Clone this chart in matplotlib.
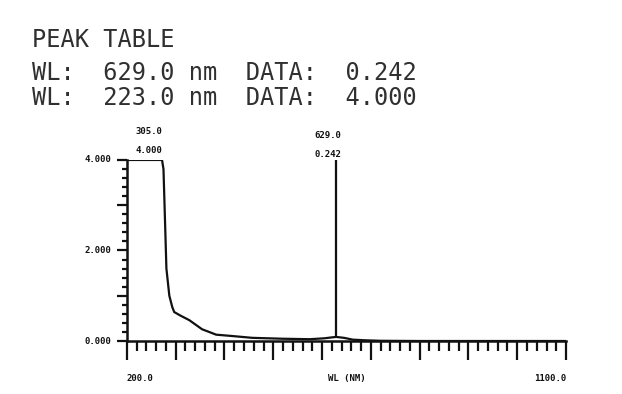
import numpy as np
import matplotlib
matplotlib.use('Agg')
import matplotlib.pyplot as plt
from matplotlib.ticker import MultipleLocator

# spectrum (wavelength nm, absorbance)
wavelength = [200, 272, 275, 281, 287, 293, 297, 310, 328, 354, 383, 416, 457,
              520, 575, 605, 620, 629, 645, 663, 690, 720, 800, 900, 1000, 1100]
absorbance = [4.0, 4.0, 3.8, 1.6, 1.0, 0.75, 0.64, 0.56, 0.46, 0.26, 0.14, 0.11, 0.07,
              0.05, 0.04, 0.06, 0.08, 0.09, 0.07, 0.03, 0.015, 0.005, 0.0, 0.0, 0.0, 0.0]

peak_label = ['305.0', '629.0']
peak_value = ['4.000', '0.242']
label_x = [245, 612]
label_y = [4.62, 4.55]

table_title = 'PEAK TABLE'
table_rows = ['WL:  629.0 nm  DATA:  0.242',
              'WL:  223.0 nm  DATA:  4.000']

ytick_vals = [0, 2, 4]
ytick_text = ['0.000', '2.000', '4.000']

ink = '#111111'
mono = 'DejaVu Sans Mono'

fig = plt.figure(figsize=(6.22, 3.94), dpi=100)
fig.patch.set_facecolor('white')
ax = fig.add_axes([0.204, 0.1345, 0.706, 0.4595])

ax.plot(wavelength, absorbance, color=ink, lw=1.6, solid_joinstyle='miter')
# peak marker line at 629 nm
ax.vlines(629, 0.09, 4.05, color=ink, lw=1.6)

ax.set_xlim(200, 1100)
ax.set_ylim(0, 4)
for s in ['top', 'right']:
    ax.spines[s].set_visible(False)
for s in ['left', 'bottom']:
    ax.spines[s].set_linewidth(1.8)
    ax.spines[s].set_color(ink)

ax.xaxis.set_major_locator(MultipleLocator(100))
ax.xaxis.set_minor_locator(MultipleLocator(20))
ax.yaxis.set_major_locator(MultipleLocator(1))
ax.yaxis.set_minor_locator(MultipleLocator(0.2))
ax.tick_params(axis='both', which='both', direction='out', width=1.6, color=ink,
               labelbottom=False, labelleft=False)
ax.tick_params(axis='x', which='major', length=14)
ax.tick_params(axis='x', which='minor', length=7)
ax.tick_params(axis='y', which='major', length=7)
ax.tick_params(axis='y', which='minor', length=3.5)

# axis annotations in the printer's small bold type
lab = dict(fontsize=6.5, fontweight='bold', family=mono, color=ink)
for v, t in zip(ytick_vals, ytick_text):
    ax.text(-0.035, v / 4, t, transform=ax.transAxes, ha='right', va='center', **lab)
ax.text(0.0, -0.205, '200.0', transform=ax.transAxes, ha='left', va='center', **lab)
ax.text(0.5, -0.205, 'WL (NM)', transform=ax.transAxes, ha='center', va='center', **lab)
ax.text(1.0, -0.205, '1100.0', transform=ax.transAxes, ha='right', va='center', **lab)

for x, y, t1, t2 in zip(label_x, label_y, peak_label, peak_value):
    ax.text(x, y, t1, ha='center', va='center', clip_on=False, **lab)
    ax.text(x, y - 0.42, t2, ha='center', va='center', clip_on=False, **lab)

# peak table header
head = dict(fontsize=17, family=mono, color='#303030', va='center')
fig.text(32 / 622, 1 - 40 / 394, table_title, **head)
for i, row in enumerate(table_rows):
    fig.text(32 / 622, 1 - (73 + 25 * i) / 394, row, **head)

fig.savefig('out.png', dpi=100, facecolor='white')
